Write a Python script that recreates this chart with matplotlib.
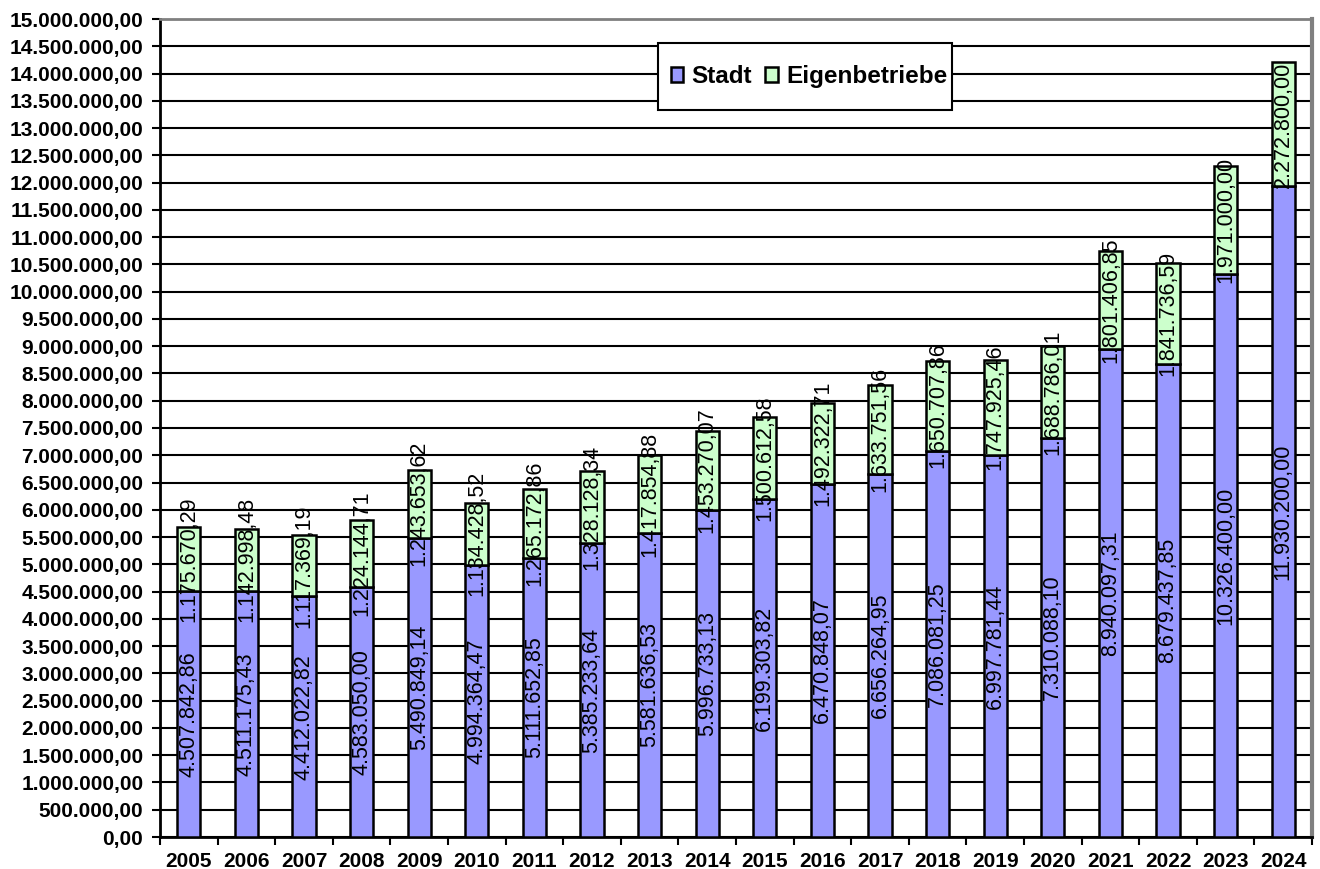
import matplotlib
matplotlib.use("Agg")
import matplotlib.pyplot as plt
from matplotlib.ticker import FuncFormatter, MultipleLocator
from matplotlib.patches import Rectangle
import numpy as np

years = ["2005", "2006", "2007", "2008", "2009", "2010", "2011", "2012", "2013", "2014",
         "2015", "2016", "2017", "2018", "2019", "2020", "2021", "2022", "2023", "2024"]
stadt = [4507842.86, 4511175.43, 4412022.82, 4583050.00, 5490849.14, 4994364.47,
         5111652.85, 5385233.64, 5581636.53, 5996733.13, 6199303.82, 6470848.07,
         6656264.95, 7086081.25, 6997781.44, 7310088.10, 8940097.31, 8679437.85,
         10326400.00, 11930200.00]
eigen = [1175670.29, 1142998.48, 1117369.19, 1224144.71, 1243653.62, 1134428.52,
         1265172.86, 1328128.34, 1417854.88, 1453270.07, 1500612.58, 1492322.71,
         1633751.56, 1650707.86, 1747925.46, 1688786.01, 1801406.85, 1841736.59,
         1971000.00, 2272800.00]
series_names = ["Stadt", "Eigenbetriebe"]


def de_fmt(v):
    s = f"{v:,.2f}"
    return s.replace(",", "X").replace(".", ",").replace("X", ".")


plt.rcParams['font.family'] = ['Liberation Sans', 'DejaVu Sans']

W, H = 1320, 869
fig = plt.figure(figsize=(W / 100, H / 100), dpi=100)
ax = fig.add_axes([160 / W, 1 - 837 / H, (1312 - 160) / W, (837 - 19) / H])

x = np.arange(len(years))
w = 0.4
b1 = ax.bar(x, stadt, width=w, color="#9999FF", edgecolor="black", linewidth=1.8,
            label=series_names[0], zorder=3)
b2 = ax.bar(x, eigen, width=w, bottom=stadt, color="#CCFFCC", edgecolor="black",
            linewidth=1.8, label=series_names[1], zorder=3)

for i in range(len(years)):
    ax.text(x[i], stadt[i] / 2, de_fmt(stadt[i]), rotation=90, ha="center", va="center",
            fontsize=15.5, color="black", zorder=5)
    ax.text(x[i], stadt[i] + eigen[i] / 2, de_fmt(eigen[i]), rotation=90, ha="center",
            va="center", fontsize=15.5, color="black", zorder=5)

ax.set_xlim(-0.5, len(years) - 0.5)
ax.set_ylim(0, 15000000)
ax.yaxis.set_major_locator(MultipleLocator(500000))
ax.yaxis.set_major_formatter(FuncFormatter(lambda v, p: de_fmt(v)))
ax.grid(axis="y", color="black", linewidth=1.5, zorder=1)
ax.set_axisbelow(True)

ax.set_xticks(x)
ax.set_xticklabels(years, fontsize=15, fontweight="bold")
ax.set_xticks(np.arange(len(years) + 1) - 0.5, minor=True)
ax.tick_params(axis="x", which="major", length=0, pad=11)
ax.tick_params(axis="x", which="minor", length=6, width=1.5, direction="out")
ax.tick_params(axis="y", which="major", length=6, width=1.5, direction="out", pad=6,
               labelsize=15)
for lbl in ax.get_yticklabels():
    lbl.set_fontweight("bold")

ax.spines["left"].set_color("black")
ax.spines["left"].set_linewidth(2)
ax.spines["bottom"].set_color("black")
ax.spines["bottom"].set_linewidth(2)
ax.spines["top"].set_color("#808080")
ax.spines["top"].set_linewidth(2)
ax.spines["right"].set_color("#808080")
ax.spines["right"].set_linewidth(3)

# legend box
lx0, lx1, ly0, ly1 = 658, 952, 43, 110
box = Rectangle((lx0 / W, 1 - ly1 / H), (lx1 - lx0) / W, (ly1 - ly0) / H,
                transform=fig.transFigure, facecolor="white", edgecolor="black",
                linewidth=1.5, zorder=9)
fig.patches.append(box)
leg = fig.legend(handles=[b1, b2], labels=series_names, loc="center",
                 bbox_to_anchor=((lx0 + lx1) / 2 / W + 4 / W, 1 - (ly0 + ly1) / 2 / H),
                 ncol=2, frameon=False,
                 prop={"weight": "bold", "size": 17.5}, handlelength=0.53, handleheight=0.53,
                 handletextpad=0.33, columnspacing=0.55, borderpad=0, borderaxespad=0)
leg.set_zorder(10)

fig.savefig("out.png", dpi=100)
